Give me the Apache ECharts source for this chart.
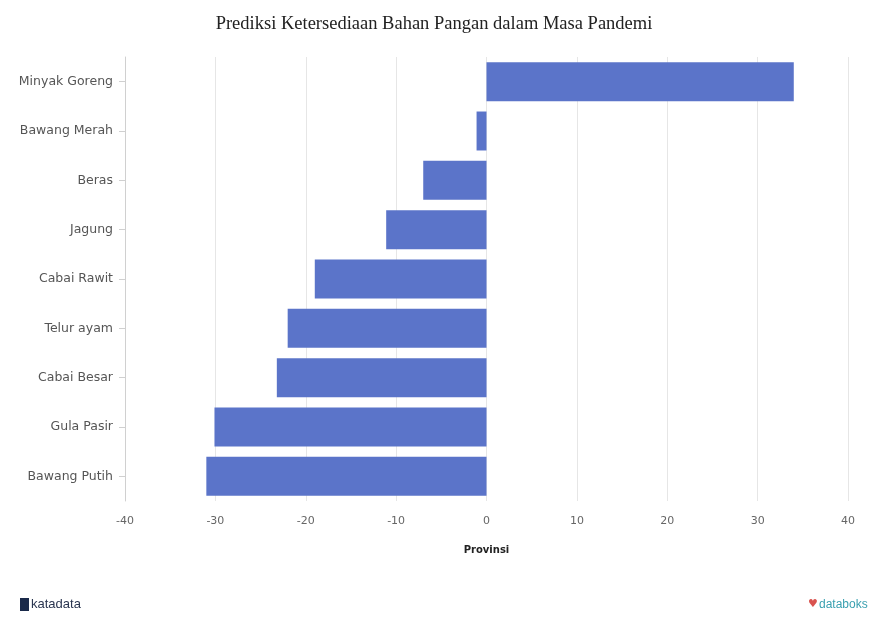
<!DOCTYPE html>
<html>
<head>
<meta charset="utf-8">
<script src="https://cdn.jsdelivr.net/npm/echarts@6/dist/echarts.min.js"></script>
<style>
html,body{margin:0;padding:0;background:#fff;}
#c{width:872px;height:618px;}
</style>
</head>
<body>
<div id="c"></div>
<script>
const categories = ["Minyak Goreng","Bawang Merah","Beras","Jagung","Cabai Rawit","Telur ayam","Cabai Besar","Gula Pasir","Bawang Putih"];
const values = [34, -1.1, -7, -11.1, -19, -22, -23.2, -30.1, -31];
const xTicks = {min: -40, max: 40, interval: 10};

const chart = echarts.init(document.getElementById('c'), null, {renderer: 'canvas'});
chart.setOption({
  animation: false,
  backgroundColor: '#ffffff',
  title: {
    text: 'Prediksi Ketersediaan Bahan Pangan dalam Masa Pandemi',
    left: 429, top: 10, textAlign: 'center',
    textStyle: {fontFamily: 'Liberation Serif', fontSize: 18.5, fontWeight: 'normal', color: '#222'}
  },
  grid: {left: 125, right: 24, top: 57, bottom: 117, containLabel: false},
  xAxis: {
    type: 'value', min: xTicks.min, max: xTicks.max, interval: xTicks.interval,
    name: 'Provinsi', nameLocation: 'middle', nameGap: 44,
    nameTextStyle: {fontFamily: 'DejaVu Sans', fontSize: 10, fontWeight: 'bold', color: '#222'},
    axisLine: {show: false}, axisTick: {show: false},
    axisLabel: {fontFamily: 'DejaVu Sans', fontSize: 11, color: '#666', margin: 15},
    splitLine: {show: true, lineStyle: {color: '#e6e6e6', width: 1}}
  },
  yAxis: {
    type: 'category', data: categories, inverse: true,
    axisLine: {show: true, onZero: false, lineStyle: {color: '#d0d0d0'}},
    axisTick: {show: true, length: 6, alignWithLabel: true, lineStyle: {color: '#d0d0d0'}},
    axisLabel: {fontFamily: 'DejaVu Sans', fontSize: 12.5, color: '#555', margin: 12},
    splitLine: {show: false}
  },
  series: [{
    type: 'bar', data: values, barCategoryGap: '21%',
    itemStyle: {color: '#5b74c9'}
  }],
  graphic: [
    {type: 'rect', left: 20, top: 598, shape: {width: 9, height: 13}, style: {fill: '#1a2a4a'}},
    {type: 'text', left: 31, top: 598, style: {text: 'katadata', fontFamily: 'Liberation Sans', fontSize: 13, fill: '#2a3550'}},
    {type: 'text', left: 808, top: 599, style: {text: '\u2665', fontFamily: 'DejaVu Sans', fontSize: 11, fill: '#d9534f'}},
    {type: 'text', left: 819, top: 599, style: {text: 'databoks', fontFamily: 'Liberation Sans', fontSize: 12, fill: '#3aa0b0'}}
  ]
});
</script>
</body>
</html>
